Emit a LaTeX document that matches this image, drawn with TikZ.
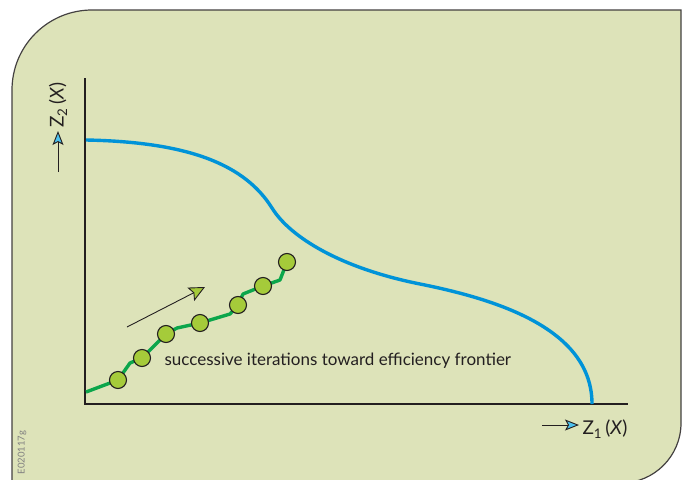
\documentclass[tikz,border=0pt]{standalone}
\usepackage{fontspec}
\setmainfont{Lato}
\usetikzlibrary{arrows.meta}
\definecolor{panel}{HTML}{DDE3B9}
\definecolor{frontblue}{HTML}{0093D8}
\definecolor{iterline}{HTML}{0BA64B}
\definecolor{iterdot}{HTML}{A5CB3A}
\definecolor{tipblue}{HTML}{4CC1EE}
\definecolor{ink}{HTML}{231F20}

\begin{document}
\begin{tikzpicture}[x=1pt,y=-1pt,
  axis/.style={ink, line width=2.6pt},
  frontier/.style={frontblue, line width=3.4pt},
  iterpath/.style={iterline, line width=3.4pt, line join=round},
  iter/.style={circle, draw=ink, line width=1.1pt, fill=iterdot, minimum size=17pt, inner sep=0pt},
  pointer/.style={ink, line width=0.9pt, -{Stealth[length=14pt, width=11pt, inset=3pt, fill=tipblue]}},
  axislabel/.style={ink, font=\fontsize{19}{22}\selectfont}]
\useasboundingbox (0,0) rectangle (682,479);
\clip (0,0) rectangle (682,479);
\draw[fill=panel, draw=ink!85, line width=1.2pt]
  (12,483) [rounded corners=80pt]-- (12,10) [sharp corners]-- (681,10)
  [rounded corners=60pt]-- (681,483) [sharp corners]-- cycle;

\node[rotate=90, anchor=west, gray, font=\fontsize{9.5}{11}\selectfont] (tag) at (22,478) {E020117g};

% axes and their labels
\draw[axis] (85,78) -- (85,404) -- (628,404);
\node[axislabel, rotate=90] (z2) at (58,105) {Z\textsubscript{2}\,(\textit{X})};
\coordinate (ytail) at (58,172);
\draw[pointer] (ytail) -- (z2.west);
\node[axislabel, anchor=west] (z1) at (579,429) {Z\textsubscript{1}\,(\textit{X})};
\coordinate (xtail) at (542,425);
\draw[pointer] (xtail) -- (xtail -| z1.west);

% efficiency frontier
\draw[frontier] (86,140) .. controls (190,142) and (245,165) .. (272,208)
  .. controls (290,237) and (340,268) .. (420,284)
  .. controls (500,300) and (592,330) .. (592,404);

% iterations
\foreach \n/\x/\y in {1/118/380, 2/142/358, 3/166/334, 4/200/323,
                      5/238/305, 6/263/286, 7/287/262}
  \coordinate (p\n) at (\x,\y);
\coordinate (start) at (86,392);
\draw[iterpath] (start) -- (p1) -- (130,363) -- (p2) -- (p3) -- (177,328) -- (p4)
  -- (230,314) -- (p5) -- (243,294) -- (p6) -- (280,280) -- (p7);
\foreach \n in {1,...,7}
  \node[iter] (it\n) at (p\n) {};

\coordinate (dirtail) at (127,327);
\coordinate (dirhead) at (205,287);
\draw[ink, line width=0.9pt, -{Stealth[length=16pt, width=15pt, inset=3pt, fill=iterdot]}] (dirtail) -- (dirhead);

\node[anchor=base west, ink, font=\fontsize{17}{20}\selectfont] (note) at (161,365)
  {successive iterations toward efficiency frontier};
\end{tikzpicture}
\end{document}
